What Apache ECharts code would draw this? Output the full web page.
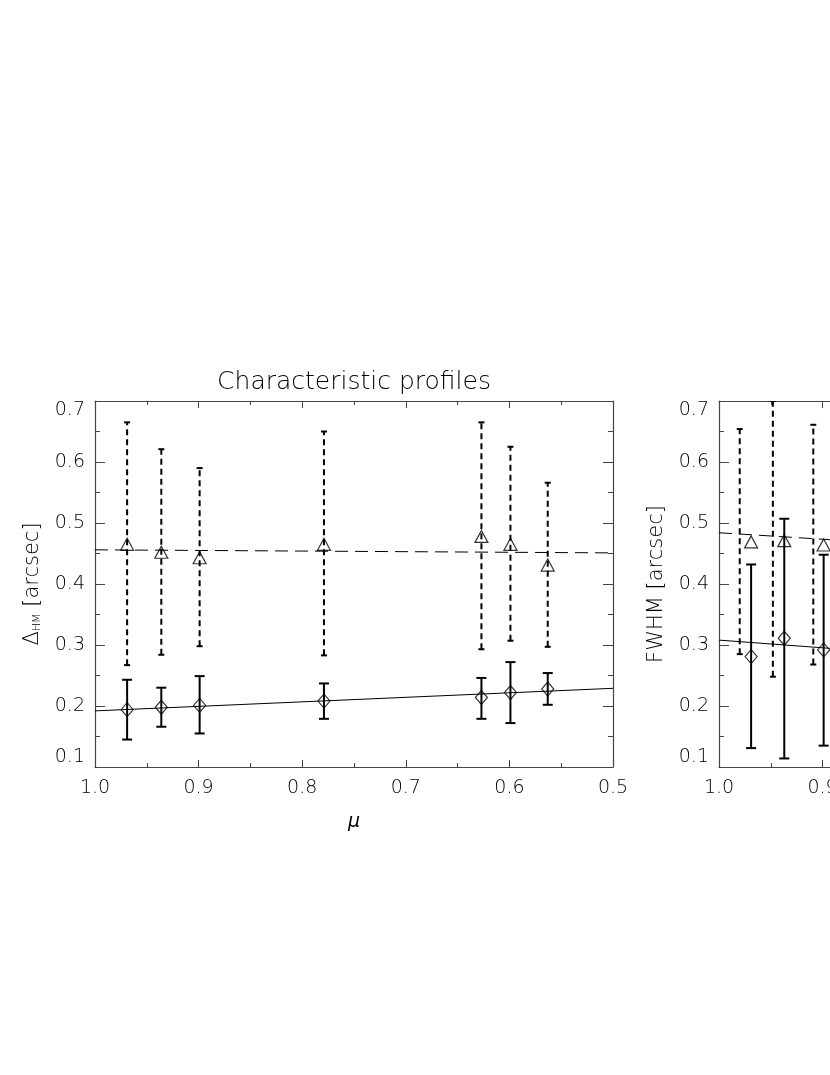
<!DOCTYPE html>
<html>
<head>
<meta charset="utf-8">
<script src="https://cdn.jsdelivr.net/npm/echarts@6/dist/echarts.min.js"></script>
<style>
  html, body { margin: 0; padding: 0; background: #fff; overflow: hidden; width: 830px; height: 1075px; }
  #chart { width: 1300px; height: 1075px; }
</style>
</head>
<body>
<div id="chart"></div>
<script>
// ---------- data ----------
const titleText = 'Characteristic profiles';
const xTicks = [1.0, 0.9, 0.8, 0.7, 0.6, 0.5];
const yTicks = [0.1, 0.2, 0.3, 0.4, 0.5, 0.6, 0.7];

// left panel: Delta_HM
const muL = [0.969, 0.936, 0.899, 0.779, 0.627, 0.599, 0.563];
const dhmDia   = [0.194, 0.198, 0.201, 0.208, 0.214, 0.222, 0.228];
const dhmDiaLo = [0.145, 0.166, 0.155, 0.179, 0.179, 0.172, 0.202];
const dhmDiaHi = [0.243, 0.230, 0.249, 0.237, 0.246, 0.272, 0.254];
const dhmTri   = [0.465, 0.452, 0.443, 0.465, 0.478, 0.465, 0.431];
const dhmTriLo = [0.267, 0.284, 0.298, 0.283, 0.293, 0.307, 0.297];
const dhmTriHi = [0.665, 0.621, 0.590, 0.650, 0.665, 0.625, 0.566];
const dhmFitSolid  = [[1.0, 0.192], [0.5, 0.229]];
const dhmFitDashed = [[1.0, 0.456], [0.5, 0.451]];

// right panel: FWHM (only the visible part)
const muR       = [0.969, 0.937, 0.899];
const muRDashed = [0.980, 0.948, 0.909];
const fwhmDia   = [0.281, 0.311, 0.292];
const fwhmDiaLo = [0.131, 0.114, 0.135];
const fwhmDiaHi = [0.432, 0.507, 0.448];
const fwhmTri   = [0.469, 0.471, 0.464];
const fwhmTriLo = [0.285, 0.248, 0.268];
const fwhmTriHi = [0.654, 0.700, 0.661];
const fwhmFitSolid  = [[1.0, 0.308], [0.5, 0.245]];
const fwhmFitDashed = [[1.0, 0.484], [0.5, 0.431]];

// ---------- styling ----------
const FONT = 'DejaVu Sans';
const FW = 200;
const BOX = '#444';

function zip2(a, b) { return a.map((v, i) => [v, b[i]]); }
function zip3(a, b, c) { return a.map((v, i) => [v, b[i], c[i]]); }

function errRender(dash, capHalf, lw) {
  return function (params, api) {
    const x = api.value(0), lo = api.value(1), hi = api.value(2);
    const p1 = api.coord([x, lo]), p2 = api.coord([x, hi]);
    const st = { stroke: '#000', lineWidth: lw, lineDash: dash };
    return {
      type: 'group',
      children: [
        { type: 'line', shape: { x1: p1[0], y1: p1[1], x2: p2[0], y2: p2[1] }, style: st },
        { type: 'line', shape: { x1: p1[0] - capHalf, y1: p1[1], x2: p1[0] + capHalf, y2: p1[1] }, style: { stroke: '#000', lineWidth: lw } },
        { type: 'line', shape: { x1: p2[0] - capHalf, y1: p2[1], x2: p2[0] + capHalf, y2: p2[1] }, style: { stroke: '#000', lineWidth: lw } }
      ]
    };
  };
}

function xAxisDef(gridIndex, position, showLabel, name) {
  return {
    type: 'value', gridIndex, position, inverse: true,
    min: 0.5, max: 1.0, interval: 0.1,
    axisLine: { show: true, onZero: false, lineStyle: { color: BOX, width: 1.2 } },
    axisTick: { show: true, inside: true, length: 7, lineStyle: { color: BOX } },
    minorTick: { show: true, splitNumber: 2, length: 4, lineStyle: { color: BOX } },
    splitLine: { show: false },
    axisLabel: {
      show: showLabel, margin: 12, color: '#000', fontFamily: FONT, fontWeight: FW, fontSize: 19,
      formatter: v => xTicks.some(t => Math.abs(t - v) < 1e-6) ? v.toFixed(1) : ''
    },
    name: name || '', nameLocation: 'middle', nameGap: 46,
    nameTextStyle: { fontFamily: FONT, fontStyle: 'italic', fontSize: 19, color: '#000', fontWeight: FW }
  };
}

function yAxisDef(gridIndex, position, showLabel, name, nameGap) {
  return {
    type: 'value', gridIndex, position,
    min: 0.1, max: 0.7, interval: 0.1,
    axisLine: { show: true, onZero: false, lineStyle: { color: BOX, width: 1.2 } },
    axisTick: { show: true, inside: true, length: 10, lineStyle: { color: BOX } },
    minorTick: { show: true, splitNumber: 2, length: 5, lineStyle: { color: BOX } },
    splitLine: { show: false },
    axisLabel: {
      show: showLabel, margin: 10, color: '#000', fontFamily: FONT, fontWeight: FW, fontSize: 19,
      formatter: v => yTicks.some(t => Math.abs(t - v) < 1e-6) ? v.toFixed(1) : '',
      verticalAlignMinLabel: 'bottom', verticalAlignMaxLabel: 'top'
    },
    name: name || '', nameLocation: 'middle', nameGap: nameGap || 50, nameRotate: 90,
    nameTextStyle: {
      fontFamily: FONT, fontWeight: FW, fontSize: 21, color: '#000',
      rich: {
        d: { fontFamily: FONT, fontWeight: FW, fontSize: 21, color: '#000', lineHeight: 26, verticalAlign: 'bottom' },
        s: { fontFamily: FONT, fontWeight: FW, fontSize: 11, color: '#000', lineHeight: 12, verticalAlign: 'bottom' }
      }
    }
  };
}

function lineSeries(xi, yi, data, dashed) {
  return {
    type: 'line', xAxisIndex: xi, yAxisIndex: yi, data, showSymbol: false, symbol: 'none',
    lineStyle: { color: '#000', width: 1, type: dashed ? [13, 7] : 'solid' },
    silent: true, animation: false, clip: true, z: 2
  };
}
function errSeries(xi, yi, data, dashed) {
  return {
    type: 'custom', xAxisIndex: xi, yAxisIndex: yi, data,
    encode: { x: 0, y: [1, 2] },
    renderItem: dashed ? errRender([6, 4], 3, 2) : errRender(null, 5, 2),
    clip: true, animation: false, z: 3
  };
}
function ptSeries(xi, yi, data, sym) {
  return {
    type: 'scatter', xAxisIndex: xi, yAxisIndex: yi, data,
    symbol: sym, symbolSize: sym === 'triangle' ? [13, 12] : [12, 14],
    itemStyle: { color: 'rgba(0,0,0,0)', borderColor: '#000', borderWidth: 1.2 },
    animation: false, clip: true, z: 4
  };
}

const chart = echarts.init(document.getElementById('chart'), null, { renderer: 'canvas', width: 1300, height: 1075 });
chart.setOption({
  backgroundColor: '#fff',
  animation: false,
  grid: [
    { left: 95, top: 401, width: 518, height: 366, containLabel: false },
    { left: 719, top: 401, width: 518, height: 366, containLabel: false }
  ],
  graphic: [
    { type: 'text', x: 354, y: 382,
      style: { text: titleText, x: 0, y: 0, align: 'center', verticalAlign: 'middle',
               font: FW + ' 25px "' + FONT + '"', fill: '#000' } }
  ],
  xAxis: [
    xAxisDef(0, 'bottom', true, 'μ'),
    xAxisDef(0, 'top', false),
    xAxisDef(1, 'bottom', true),
    xAxisDef(1, 'top', false)
  ],
  yAxis: [
    yAxisDef(0, 'left', true, '{d|Δ}{s|HM} {d|[arcsec]}', 52),
    yAxisDef(0, 'right', false),
    yAxisDef(1, 'left', true, '{d|FWHM [arcsec]}', 52),
    yAxisDef(1, 'right', false)
  ],
  series: [
    lineSeries(0, 0, dhmFitSolid, false),
    lineSeries(0, 0, dhmFitDashed, true),
    errSeries(0, 0, zip3(muL, dhmTriLo, dhmTriHi), true),
    errSeries(0, 0, zip3(muL, dhmDiaLo, dhmDiaHi), false),
    ptSeries(0, 0, zip2(muL, dhmTri), 'triangle'),
    ptSeries(0, 0, zip2(muL, dhmDia), 'diamond'),

    lineSeries(2, 2, fwhmFitSolid, false),
    lineSeries(2, 2, fwhmFitDashed, true),
    errSeries(2, 2, zip3(muRDashed, fwhmTriLo, fwhmTriHi), true),
    errSeries(2, 2, zip3(muR, fwhmDiaLo, fwhmDiaHi), false),
    ptSeries(2, 2, zip2(muR, fwhmTri), 'triangle'),
    ptSeries(2, 2, zip2(muR, fwhmDia), 'diamond')
  ]
});
</script>
</body>
</html>
